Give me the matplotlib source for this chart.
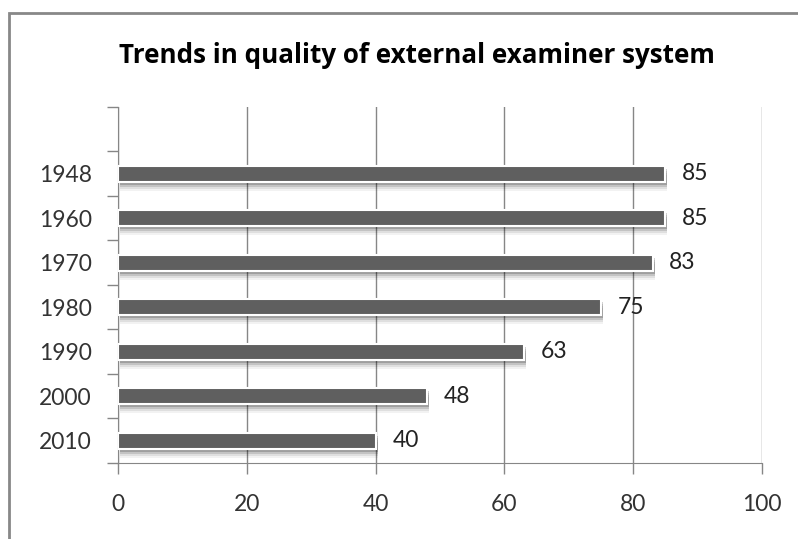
import matplotlib.pyplot as plt
import matplotlib.patheffects as pe
from matplotlib.patches import Rectangle

plt.rcParams['font.family'] = ['Lato', 'DejaVu Sans']

years = ['2010', '2000', '1990', '1980', '1970', '1960', '1948']
quality = [40, 48, 63, 75, 83, 85, 85]

fig = plt.figure(figsize=(7.98, 5.39), dpi=100)
ax = fig.add_axes([0.1479, 0.141, 0.807, 0.6605])

# soft drop shadow built from a few offset layers
shadow = [pe.SimplePatchShadow(offset=(1.5, -d), shadow_rgbFace='#000000', alpha=a)
          for d, a in [(2, 0.18), (3.5, 0.12), (5, 0.08), (6.5, 0.05)]]
bars = ax.barh(range(len(years)), quality, height=0.36, color='#5f5f5f',
               edgecolor='white', linewidth=1.5, zorder=3)
for b in bars:
    b.set_path_effects(shadow + [pe.Normal()])

for i, v in enumerate(quality):
    ax.annotate(str(v), (v, i), xytext=(12, 0), textcoords='offset points',
                va='center', ha='left', fontsize=16.5, color='#222222')

ax.set_xlim(0, 100)
ax.set_ylim(-0.5, 7.5)
ax.set_xticks(range(0, 101, 20))
ax.set_yticks(range(len(years)))
ax.set_yticklabels(years)
ax.set_yticks([i - 0.5 for i in range(9)], minor=True)
ax.tick_params(axis='y', which='major', length=0, pad=19, labelsize=16.5, labelcolor='#333333')
ax.tick_params(axis='y', which='minor', length=8, width=1, color='#868686')
ax.tick_params(axis='x', length=8, width=1, color='#868686', pad=14, labelsize=16.5,
               labelcolor='#333333')
ax.grid(axis='x', color='#868686', linewidth=1, zorder=0)

for s in ['top', 'right']:
    ax.spines[s].set_visible(False)
for s in ['left', 'bottom']:
    ax.spines[s].set_color('#868686')

fig.text(0.522, 0.897, 'Trends in quality of external examiner system',
         ha='center', va='center', fontsize=18.7, fontweight='bold', color='#000000',
         family=['Open Sans', 'DejaVu Sans'])

fig.patches.append(Rectangle((9 / 798, -0.1), 1.2, 1 - 13 / 539 + 0.1,
                             transform=fig.transFigure, fill=False,
                             edgecolor='#888888', linewidth=2))

fig.savefig('out.png', dpi=100)
